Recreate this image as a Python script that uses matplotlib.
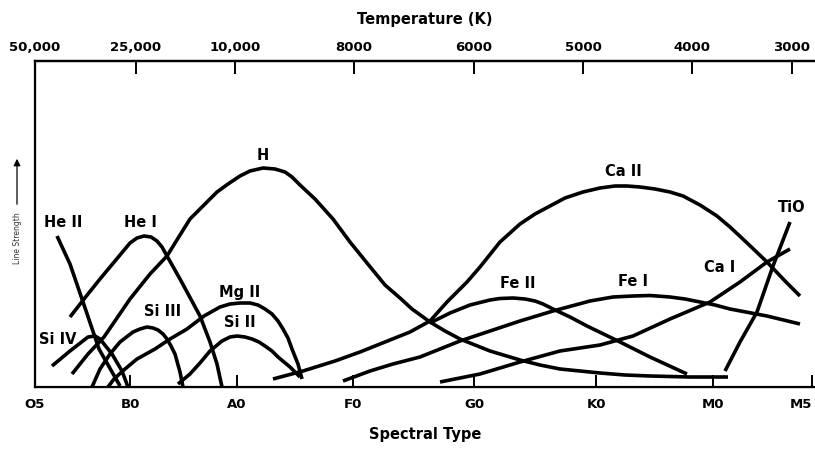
import matplotlib
matplotlib.use("Agg")
import matplotlib.pyplot as plt

# ---- data (x in spectral-type axis units, y = relative line strength) ----
spectral_ticks = [0.0, 0.95, 2.02, 3.18, 4.39, 5.61, 6.78, 7.77]
spectral_labels = ["O5", "B0", "A0", "F0", "G0", "K0", "M0", "M5"]
temp_ticks = [0.0, 1.01, 2.00, 3.19, 4.39, 5.48, 6.57, 7.57]
temp_labels = ["50,000", "25,000", "10,000", "8000", "6000", "5000", "4000", "3000"]

heII_x = [0.22, 0.35, 0.47, 0.64, 0.85]
heII_y = [1.51, 1.23, 0.88, 0.38, 0.01]

heI_x = [0.35, 0.49, 0.65, 0.80, 0.95, 1.02, 1.09, 1.16, 1.22, 1.27, 1.32, 1.45, 1.65,
         1.75, 1.82, 1.87]
heI_y = [0.70, 0.88, 1.08, 1.26, 1.44, 1.49, 1.51, 1.50, 1.46, 1.40, 1.31, 1.08, 0.71,
         0.45, 0.23, 0.00]

h_x = [0.37, 0.53, 0.69, 0.95, 1.15, 1.32, 1.45, 1.55, 1.70, 1.82, 1.93, 2.05, 2.15,
       2.28, 2.40, 2.50, 2.57, 2.65, 2.80, 2.98, 3.15, 3.32, 3.50, 3.65, 3.77, 3.95,
       4.10, 4.25, 4.55, 4.85, 5.05, 5.25, 5.45, 5.65, 5.90, 6.15, 6.55, 6.93]
h_y = [0.13, 0.33, 0.50, 0.88, 1.13, 1.31, 1.52, 1.68, 1.83, 1.95, 2.03, 2.11, 2.16,
       2.19, 2.18, 2.15, 2.10, 2.02, 1.88, 1.68, 1.45, 1.24, 1.02, 0.89, 0.78, 0.65,
       0.56, 0.48, 0.36, 0.27, 0.22, 0.18, 0.16, 0.14, 0.12, 0.11, 0.10, 0.10]

siIV_x = [0.17, 0.35, 0.53, 0.60, 0.65, 0.77, 0.87, 0.93]
siIV_y = [0.21, 0.36, 0.50, 0.51, 0.48, 0.33, 0.16, 0.00]

siIII_x = [0.57, 0.65, 0.75, 0.85, 0.98, 1.05, 1.12, 1.18, 1.23, 1.28, 1.32, 1.36, 1.40,
           1.45, 1.48]
siIII_y = [0.00, 0.18, 0.33, 0.45, 0.55, 0.58, 0.60, 0.59, 0.57, 0.53, 0.48, 0.41, 0.33,
           0.15, 0.00]

mgII_x = [0.73, 0.79, 0.90, 1.02, 1.20, 1.35, 1.52, 1.69, 1.85, 1.95, 2.05, 2.15, 2.23,
          2.30, 2.37, 2.43, 2.48, 2.53, 2.57, 2.63, 2.67]
mgII_y = [0.00, 0.08, 0.18, 0.28, 0.38, 0.48, 0.58, 0.71, 0.80, 0.83, 0.84, 0.84, 0.82,
          0.78, 0.73, 0.66, 0.58, 0.49, 0.38, 0.23, 0.08]

siII_x = [1.43, 1.55, 1.65, 1.75, 1.87, 1.95, 2.02, 2.10, 2.17, 2.24, 2.30, 2.37, 2.43,
          2.49, 2.55, 2.60, 2.65]
siII_y = [0.03, 0.13, 0.24, 0.36, 0.46, 0.50, 0.51, 0.50, 0.48, 0.45, 0.41, 0.36, 0.30,
          0.25, 0.20, 0.15, 0.10]

caII_x = [2.38, 2.68, 3.00, 3.25, 3.50, 3.75, 3.95, 4.12, 4.32, 4.45, 4.65, 4.85, 5.00,
          5.15, 5.30, 5.48, 5.65, 5.80, 5.92, 6.05, 6.20, 6.35, 6.48, 6.65, 6.82, 6.95,
          7.10, 7.32, 7.50, 7.65]
caII_y = [0.08, 0.16, 0.26, 0.35, 0.45, 0.55, 0.66, 0.85, 1.05, 1.20, 1.45, 1.63, 1.73,
          1.81, 1.89, 1.95, 1.99, 2.01, 2.01, 2.00, 1.98, 1.95, 1.91, 1.82, 1.71, 1.60,
          1.46, 1.25, 1.06, 0.91]

feII_x = [3.95, 4.15, 4.35, 4.55, 4.65, 4.78, 4.90, 5.00, 5.08, 5.18, 5.35, 5.52, 5.85,
          6.15, 6.52]
feII_y = [0.64, 0.74, 0.82, 0.87, 0.885, 0.89, 0.88, 0.86, 0.83, 0.78, 0.70, 0.61, 0.45,
          0.30, 0.13]

feI_x = [3.08, 3.35, 3.58, 3.85, 4.25, 4.52, 4.85, 5.18, 5.55, 5.78, 5.98, 6.15, 6.35,
         6.50, 6.65, 6.80, 6.95, 7.32, 7.65]
feI_y = [0.06, 0.16, 0.23, 0.30, 0.46, 0.55, 0.66, 0.76, 0.86, 0.90, 0.91, 0.915, 0.90,
         0.88, 0.85, 0.82, 0.78, 0.71, 0.63]

caI_x = [4.05, 4.45, 4.85, 5.25, 5.65, 5.98, 6.35, 6.75, 7.05, 7.32, 7.55]
caI_y = [0.05, 0.13, 0.25, 0.36, 0.42, 0.51, 0.68, 0.85, 1.05, 1.25, 1.38]

tio_x = [6.90, 7.05, 7.22, 7.38, 7.55]
tio_y = [0.16, 0.45, 0.75, 1.21, 1.65]

series = [
    ("He II", heII_x, heII_y, (0.28, 1.65)),
    ("He I", heI_x, heI_y, (1.05, 1.65)),
    ("H", h_x, h_y, (2.28, 2.33)),
    ("Si IV", siIV_x, siIV_y, (0.23, 0.48)),
    ("Si III", siIII_x, siIII_y, (1.28, 0.76)),
    ("Mg II", mgII_x, mgII_y, (2.05, 0.96)),
    ("Si II", siII_x, siII_y, (2.05, 0.65)),
    ("Ca II", caII_x, caII_y, (5.88, 2.16)),
    ("Fe II", feII_x, feII_y, (4.83, 1.05)),
    ("Fe I", feI_x, feI_y, (5.98, 1.06)),
    ("Ca I", caI_x, caI_y, (6.85, 1.20)),
    ("TiO", tio_x, tio_y, (7.57, 1.80)),
]

# ---- figure ----
fig = plt.figure(figsize=(8.15, 4.52), dpi=100)
ax = fig.add_axes([35 / 815, 64 / 452, 780 / 815, 326 / 452])
ax.set_xlim(0, 7.80)
ax.set_ylim(0, 3.26)

for name, xs, ys, (lx, ly) in series:
    ax.plot(xs, ys, color="black", lw=2.6, solid_capstyle="butt", solid_joinstyle="round")
    ax.text(lx, ly, name, ha="center", va="center", fontsize=10.5,
            fontweight="bold", color="black")

for side in ("left", "bottom", "top"):
    ax.spines[side].set_linewidth(1.6)
ax.spines["right"].set_visible(False)

ax.set_yticks([])
ax.set_xticks(spectral_ticks)
ax.set_xticklabels(spectral_labels, fontsize=9.5, fontweight="bold")
ax.get_xticklabels()[-1].set_horizontalalignment("right")
ax.tick_params(axis="x", direction="in", length=9, width=1.4, pad=7)
ax.set_xlabel("Spectral Type", fontsize=10.5, fontweight="bold", labelpad=12)

top = ax.twiny()
top.set_xlim(ax.get_xlim())
top.set_xticks(temp_ticks)
top.set_xticklabels(temp_labels, fontsize=9.5, fontweight="bold")
top.tick_params(axis="x", direction="in", length=9, width=1.4, pad=6)
top.set_xlabel("Temperature (K)", fontsize=10.5, fontweight="bold", labelpad=12)
top.spines["right"].set_visible(False)
top.spines["top"].set_linewidth(1.6)

# y label with arrow
fig.text(17 / 815, 1 - 238 / 452, "Line Strength", rotation=90, ha="center",
         va="center", fontsize=5.5, color="#333333")
ax.annotate("", xy=(17, 452 - 157), xytext=(17, 452 - 208),
            xycoords="figure pixels", textcoords="figure pixels",
            arrowprops=dict(arrowstyle="-|>", color="black", lw=0.9,
                            mutation_scale=10))

fig.savefig("out.png", dpi=100)
